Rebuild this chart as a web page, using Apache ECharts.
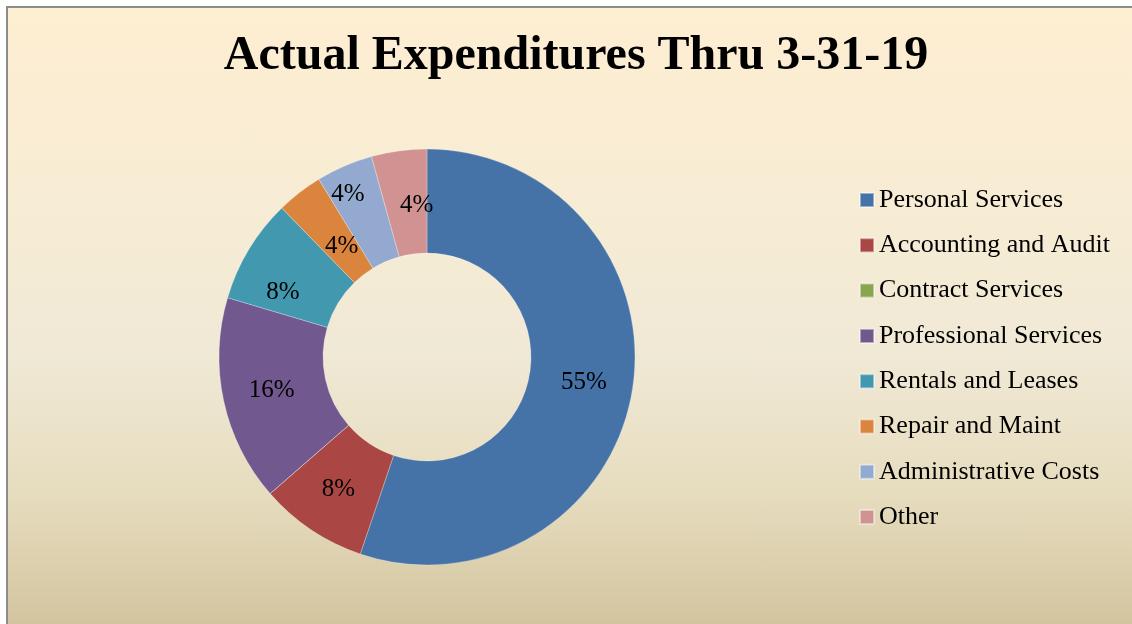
<!DOCTYPE html>
<html>
<head>
<meta charset="utf-8">
<script src="https://cdn.jsdelivr.net/npm/echarts@6/dist/echarts.min.js"></script>
<style>
html,body{margin:0;padding:0;background:#fff;width:1132px;height:624px;overflow:hidden;}
#bg{position:absolute;left:6px;top:6px;width:1130px;height:625px;border-top:2px solid #8c8c8c;border-left:2px solid #8c8c8c;
background:linear-gradient(to bottom,#FEEED2 0%,#F6ECD4 35%,#F0E9D6 55%,#E6DCBE 78%,#D2C39D 100%);}
#chart{position:absolute;left:0;top:0;width:1132px;height:624px;}
</style>
</head>
<body>
<div id="bg"></div>
<div id="chart"></div>
<script>
var titleText = 'Actual Expenditures Thru 3-31-19';
var categories = ['Personal Services','Accounting and Audit','Contract Services','Professional Services','Rentals and Leases','Repair and Maint','Administrative Costs','Other'];
var values = [55.2, 8.4, 0, 16.0, 8.1, 3.6, 4.4, 4.3];
var colors = ['#4572A7','#AA4643','#89A54E','#71588F','#4198AF','#DB843D','#93A9CF','#D19392'];

var chart = echarts.init(document.getElementById('chart'), null, {renderer:'canvas'});
var font = '"Liberation Serif","Times New Roman",serif';
// small label nudges to mimic the original's label placement
var nudge = {4: [-8, 18], 5: [12, 15], 6: [-16, -17], 7: [11, 6]};
chart.setOption({
  backgroundColor: 'transparent',
  color: colors,
  title: {
    text: titleText,
    left: 571, top: 28, textAlign: 'center',
    textStyle: {fontFamily: font, fontWeight: 'bold', fontSize: 48, color: '#000'}
  },
  legend: {
    orient: 'vertical',
    left: 859, top: 187, padding: 0,
    itemWidth: 14, itemHeight: 14, itemGap: 19.3,
    icon: 'rect',
    data: categories,
    textStyle: {fontFamily: font, fontSize: 26, color: '#000', lineHeight: 26}
  },
  series: [{
    type: 'pie',
    center: [427, 357],
    radius: [104, 208],
    startAngle: 90,
    clockwise: true,
    avoidLabelOverlap: false,
    stillShowZeroSum: true,
    minShowLabelAngle: 0.5,
    animation: false,
    itemStyle: {borderColor: 'rgba(255,255,255,0.45)', borderWidth: 0.6},
    label: {
      show: true, position: 'inside',
      fontFamily: font, fontSize: 25, color: '#000',
      formatter: function(p){ return p.value === 0 ? '' : Math.round(p.percent) + '%'; }
    },
    labelLine: {show: false},
    emphasis: {disabled: true},
    data: categories.map(function(c,i){
      var d = {name: c, value: values[i]};
      if (nudge[i]) d.label = {offset: nudge[i]};
      return d;
    })
  }]
});
</script>
</body>
</html>
